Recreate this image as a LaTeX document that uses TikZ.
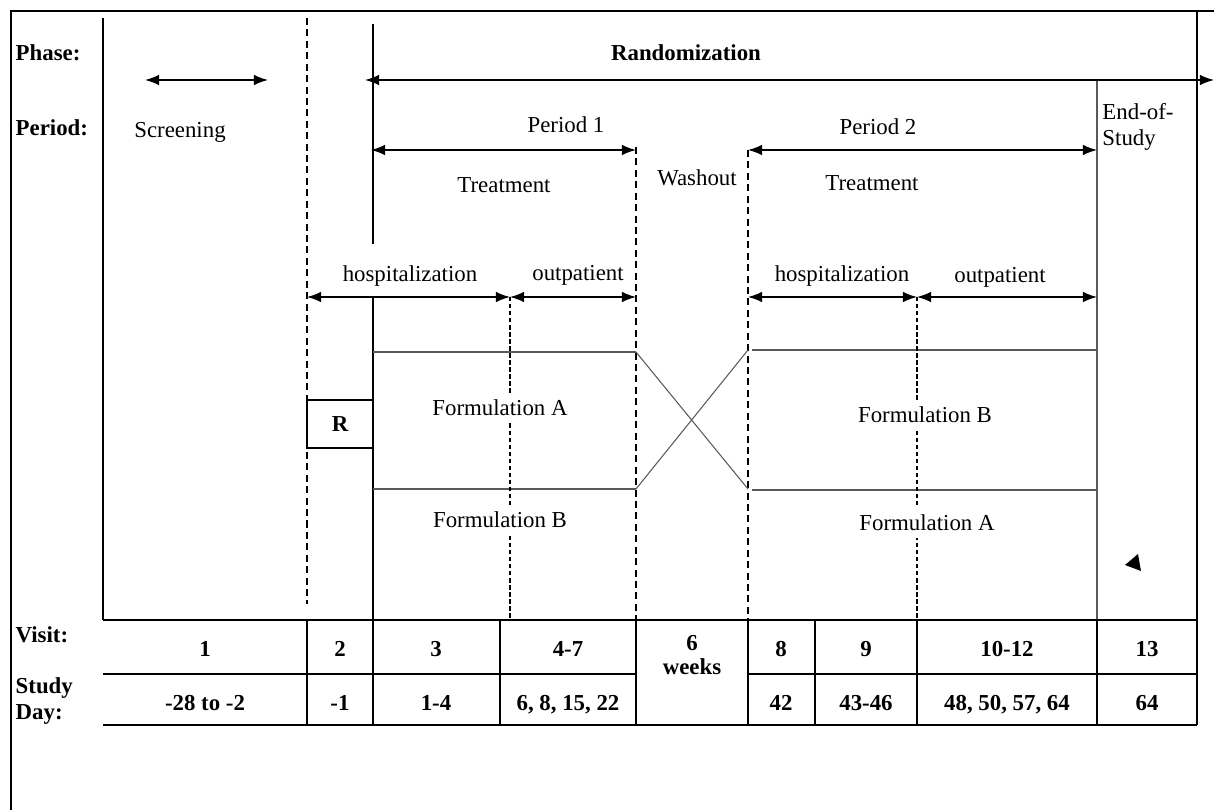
\documentclass[tikz,border=0pt]{standalone}
\usepackage{fontspec}
\setmainfont{Liberation Serif}
\usetikzlibrary{positioning,arrows.meta}

\begin{document}
\begin{tikzpicture}[x=0.02cm ,y=-0.02cm ,thick ,
  dur/.style ={{Latex[length=8pt,width=6pt]}-{Latex[length=8pt,width=6pt]} ,thick},
  lbl/.style ={font=\fontsize{13}{15}\selectfont\bfseries ,anchor=west ,align=left ,inner sep=0pt},
  txt/.style ={font=\fontsize{13}{14.5}\selectfont ,inner sep=1pt},
  form/.style ={txt ,fill=white ,inner sep=4pt},
  cell/.style ={font=\fontsize{13}{14}\selectfont\bfseries},
  sep/.style ={dash pattern=on 4pt off 2.5pt ,thick},
  sub/.style ={dash pattern=on 2.5pt off 1.5pt ,semithick},
  box/.style ={gray!70!black ,semithick}]
\useasboundingbox (0,0) rectangle (1214,810);
% frame and phase lines
\draw (11,810) -- (11,11) -- (1214,11);
\draw (1197,11) -- (1197,725);
\draw (103,18) -- (103,620);
\draw (373,24) -- (373,244);
\draw (373,297) -- (373,620);
\draw[sep] (307,18) -- (307,604);
\draw[sep] (636,147) -- (636,620);
\draw[sep] (748,150) -- (748,620);
\draw[box] (1097,80) -- (1097,620);
% formulation rows and crossover
\draw[box] (373,352) -- (636,352) (373,489) -- (636,489);
\draw[box] (752,350) -- (1097,350) (752,490) -- (1097,490);
\draw[box] (636,352) -- (748,489) (636,489) -- (748,350);
\draw[sub] (510,297) -- (510,620);
\draw[sub] (917,297) -- (917,620);
\node[form] (fa1) at (500,408) {Formulation A};
\node[form] (fb1) at (500,520) {Formulation B};
\node[form] (fb2) at (925,415) {Formulation B};
\node[form] (fa2) at (927,523) {Formulation A};
\node[cell ,draw ,thick ,fill=white ,minimum width=1.32cm ,minimum height=0.96cm] (R) at (340,424) {R};
% row labels
\node[lbl] (phase) at (15,53) {Phase:};
\node[lbl] (period) at (15,128) {Period:};
\node[lbl] (visit) at (15,635) {Visit:};
\node[lbl] (day) at (15,701) {Study\\Day:};
% texts
\node[txt] (scr) at (180,132) {Screening};
\node[lbl ,anchor=center] (rnd) at (686,53) {Randomization};
\node[txt] (p1) at (566,125) {Period 1};
\node[txt] (tr1) at (504,185) {Treatment};
\node[txt] (wash) at (697,178) {Washout};
\node[txt] (p2) at (878,127) {Period 2};
\node[txt] (tr2) at (872,183) {Treatment};
\node[txt ,anchor=north west ,align=left] (eos) at (1100,101) {End-of-\\Study};
\node[txt] (hos1) at (410,276) {hospitalization};
\node[txt] (out1) at (578,275) {outpatient};
\node[txt] (hos2) at (842,276) {hospitalization};
\node[txt] (out2) at (1000,277) {outpatient};
% arrows
\coordinate (scrL) at (145,80);  \coordinate (scrR) at (268,80);
\coordinate (rndL) at (365,80);  \coordinate (rndR) at (1214,80);
\coordinate (p1L) at (371,150);  \coordinate (p1R) at (636,150);
\coordinate (p2L) at (748,150);  \coordinate (p2R) at (1097,150);
\coordinate (h1L) at (307,297);  \coordinate (h1R) at (510,297);
\coordinate (o1R) at (636,297);
\coordinate (h2L) at (748,297);  \coordinate (h2R) at (917,297);
\coordinate (o2R) at (1097,297);
\draw[dur] (scrL) -- (scrR);
\draw[dur] (rndL) -- (rndR);
\draw[dur] (p1L) -- (p1R);
\draw[dur] (p2L) -- (p2R);
\draw[dur] (h1L) -- (h1R);
\draw[dur] (h1R) -- (o1R);
\draw[dur] (h2L) -- (h2R);
\draw[dur] (h2R) -- (o2R);
\fill (1125,565) -- (1138,554) -- (1141,571) -- cycle;
% visit table
\draw (103,620) -- (1197,620);
\draw (103,674) -- (636,674) (748,674) -- (1197,674);
\draw (103,725) -- (1197,725);
\foreach \x in {307,373,500,636,748,815,917,1097}
  \draw (\x,620) -- (\x,725);
\foreach \x/\v/\d [count=\i] in {205/1/-28 to -2, 340/2/-1, 436/3/1-4, 568/4-7/{6, 8, 15, 22}, 781/8/42, 866/9/43-46, 1007/10-12/{48, 50, 57, 64}, 1147/13/64}
{
  \node[cell ,anchor=base] (v\i) at (\x,657) {\v};
  \node[cell ,anchor=base] (d\i) at (\x,710) {\d};
}
\node[cell ,align=center] (wk) at (692,655) {6\\weeks};
\end{tikzpicture}
\end{document}
